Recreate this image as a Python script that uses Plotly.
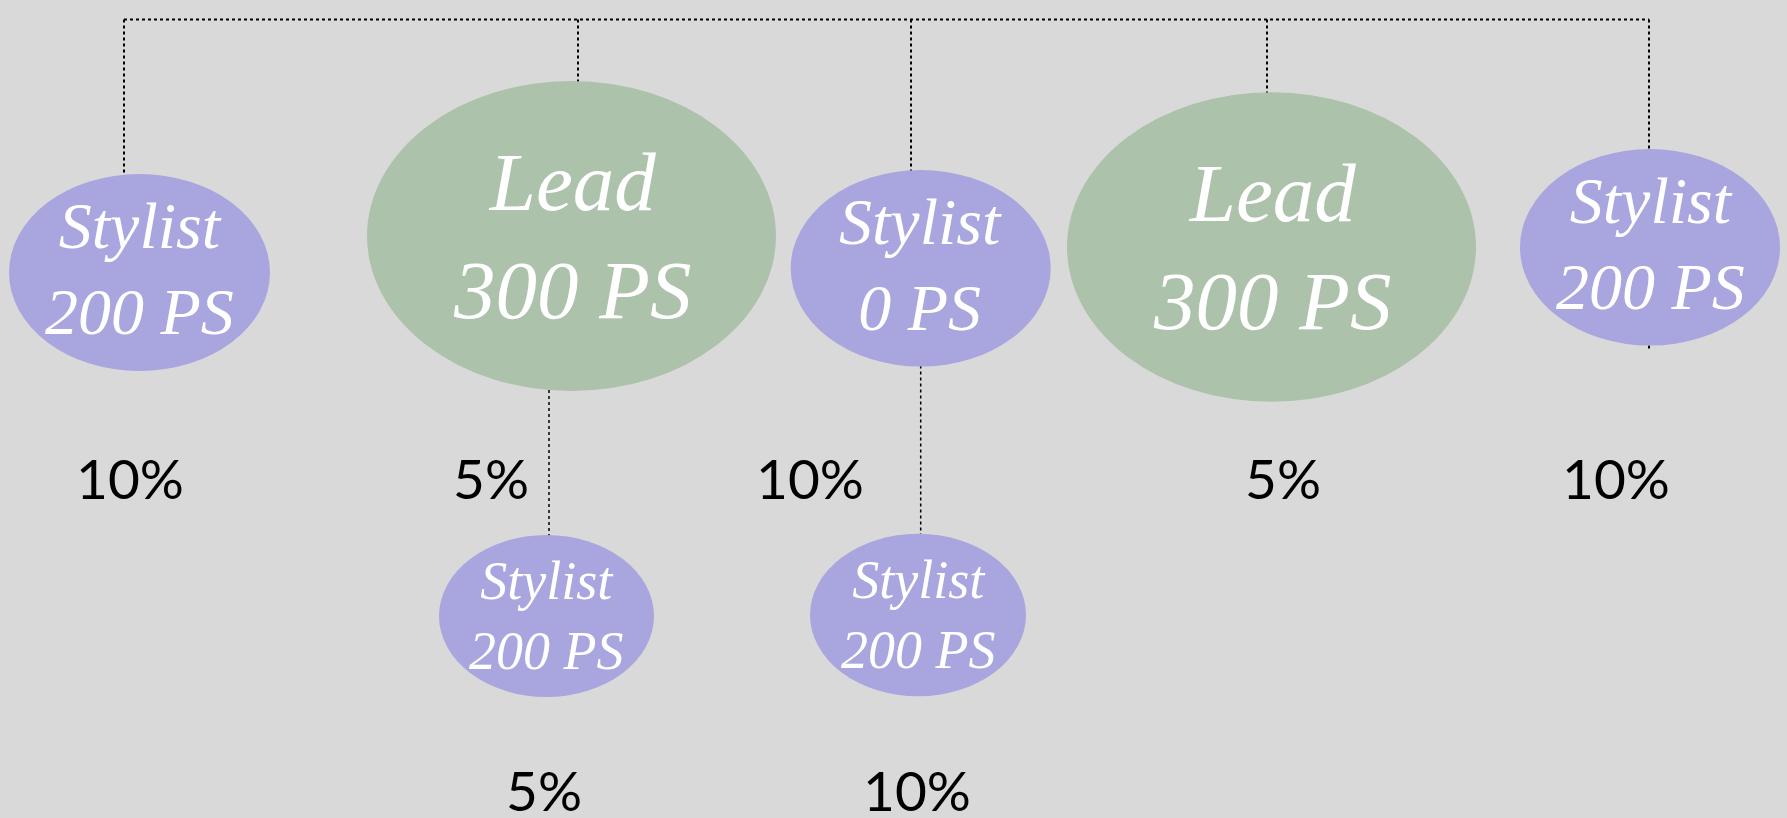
import plotly.graph_objects as go

# ---- data ----
roles = ["Stylist", "Lead", "Stylist", "Lead", "Stylist", "Stylist", "Stylist"]
ps_values = [200, 300, 0, 300, 200, 200, 200]
percents = [10, 5, 10, 5, 10, 5, 10]
parents = [None, None, None, None, None, 1, 2]   # index of parent node (None = top bar)

# ---- layout (pixel-like canvas coordinates) ----
W, H = 1787, 818
node_cx = [139.5, 571.5, 920.7, 1271.5, 1650, 546.5, 918]
node_cy = [272.5, 236, 268.3, 247, 247.3, 616, 615]
node_rx = [130.5, 204.5, 130, 204.5, 130, 107.5, 108]
node_ry = [98.5, 155, 98.3, 154.7, 98.3, 81, 81.3]
drop_x = [124, 578, 911, 1267, 1649, None, None]
child_line_x = {5: 549, 6: 920.7}
label_x = [130, 491, 810, 1283, 1616, 544, 917]
label_y = [478, 478, 478, 478, 478, 790, 790]
bar_y = 19.4
text_size = {"Stylist": 66, "Lead": 83}
text_shift = {"Stylist": 4, "Lead": 0}
small_text_size = 54

colors = {"Stylist": "#A9A5DF", "Lead": "#ADC2AA"}
bg = "#D9D9D9"
line_style = dict(color="#000000", width=2, dash="dot")

fig = go.Figure()
shapes = []
annotations = []

# top horizontal bar
top_x = [x for x in drop_x if x is not None]
shapes.append(dict(type="line", x0=min(top_x), x1=max(top_x), y0=bar_y, y1=bar_y, line=line_style, layer="below"))

for i, role in enumerate(roles):
    cx, cy, rx, ry = node_cx[i], node_cy[i], node_rx[i], node_ry[i]
    # connectors
    if parents[i] is None:
        shapes.append(dict(type="line", x0=drop_x[i], x1=drop_x[i], y0=bar_y, y1=cy - ry + 1,
                           line=line_style, layer="below"))
    else:
        p = parents[i]
        lx = child_line_x[i]
        shapes.append(dict(type="line", x0=lx, x1=lx, y0=node_cy[p] + node_ry[p] - 1, y1=cy - ry + 1,
                           line=dict(color="#000000", width=1.5, dash="dot"), layer="below"))
    # ellipse
    shapes.append(dict(type="circle", x0=cx - rx, x1=cx + rx, y0=cy - ry, y1=cy + ry,
                       fillcolor=colors[role], line=dict(width=0), layer="above"))
    small = parents[i] is not None
    size = small_text_size if small else text_size[role]
    annotations.append(dict(x=cx, y=cy, xref="x", yref="y", showarrow=False,
                            text=f"<i>{role}<br>{ps_values[i]} PS</i>",
                            font=dict(family="Liberation Serif", size=size, color="white"),
                            xanchor="center", yanchor="middle", align="center",
                            yshift=0 if small else text_shift[role]))
    annotations.append(dict(x=label_x[i], y=label_y[i], xref="x", yref="y", showarrow=False,
                            text=f"{percents[i]}%",
                            font=dict(family="Lato", size=55, color="#000000"),
                            xanchor="center", yanchor="middle"))

# small tick below the right stylist
shapes.append(dict(type="line", x0=1649, x1=1649, y0=node_cy[4] + node_ry[4], y1=node_cy[4] + node_ry[4] + 3,
                   line=line_style, layer="below"))

fig.update_layout(
    width=W, height=H,
    margin=dict(l=0, r=0, t=0, b=0),
    paper_bgcolor=bg, plot_bgcolor=bg,
    shapes=shapes, annotations=annotations,
    xaxis=dict(range=[0, W], visible=False, fixedrange=True),
    yaxis=dict(range=[H, 0], visible=False, fixedrange=True),
    showlegend=False,
)
fig.write_html("out.html", config={"displayModeBar": False},
               post_script="document.body.style.margin='0';document.body.style.overflow='hidden';")
